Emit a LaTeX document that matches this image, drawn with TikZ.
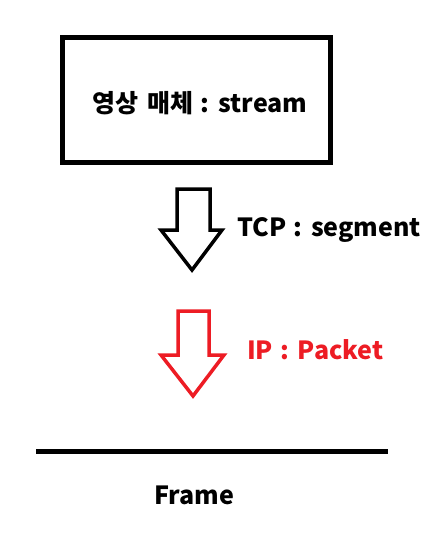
\documentclass[tikz,border=0pt]{standalone}
\usepackage{fontspec}
\setmainfont{Noto Sans CJK KR}
\definecolor{paintred}{HTML}{ED1C24}
\newcommand{\colonsep}{\hspace{7pt}:\hspace{9pt}}
\tikzset{
  layertext/.style={font=\fontsize{25}{28}\selectfont\bfseries, inner sep=0pt}
}
\begin{document}
\begin{tikzpicture}[x=1pt,y=-1pt]
  \useasboundingbox (0,0) rectangle (443,536);
  % Media box
  \draw[line width=5pt] (62.5,37.5) rectangle (330.5,162.5);
  \node[layertext] (media) at (200,103) {영상\hspace{9pt}매체\colonsep stream};
  % TCP arrow
  \draw[line width=3.5pt, line join=miter]
    (177,189) -- (210,189) -- (210,230) -- (222,230) -- (192,270)
    -- (161,230) -- (177,230) -- cycle;
  \node[layertext, anchor=west] (tcp) at (237,230) {TCP\colonsep segment};
  % IP arrow
  \draw[paintred, line width=3.5pt, line join=miter]
    (178,311) -- (209,311) -- (209,355) -- (224,355) -- (193,396)
    -- (161,355) -- (178,355) -- cycle;
  \node[layertext, anchor=west, text=paintred] (ip) at (247,350) {IP\colonsep Packet};
  % Frame line
  \draw[line width=5pt] (36,451.5) -- (388,451.5);
  \node[layertext] (frame) at (194,495) {Frame};
\end{tikzpicture}
\end{document}
